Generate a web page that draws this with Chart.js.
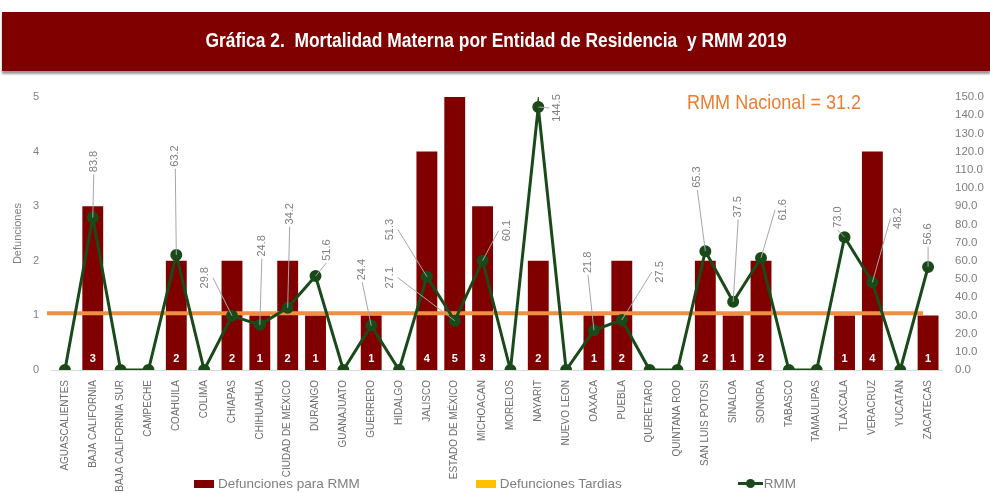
<!DOCTYPE html>
<html>
<head>
<meta charset="utf-8">
<script src="https://cdn.jsdelivr.net/npm/chart.js@4.4.1/dist/chart.umd.min.js"></script>
<style>
  html, body { margin: 0; padding: 0; background: #ffffff; }
  #wrap { position: relative; width: 990px; height: 493px; overflow: hidden; background: #fff; }
  #band { position: absolute; left: 2px; top: 12px; width: 988px; height: 59px; background: #800000;
          box-shadow: 0 3px 2px #9a9a9a; }
  #band div { position: absolute; left: 0; top: 0; width: 988px; text-align: center; color: #ffffff;
          font: bold 20px "Liberation Sans", Arial, sans-serif; line-height: 56px; white-space: pre;
          transform: scaleX(0.87); transform-origin: 494px 0; }
  #nacional { position: absolute; left: 687px; top: 90px; color: #ED7D31;
          font: 21px "Liberation Sans", sans-serif; white-space: pre;
          transform: scaleX(0.86); transform-origin: 0 0; }
  #c { position: absolute; left: 0; top: 0; }
  #legend { position: absolute; left: 0; top: 476px; width: 990px; display: flex; justify-content: center; gap: 116px;
            font: 13.5px "Liberation Sans", Arial, sans-serif; color: #7f7f7f; }
  .item { display: flex; align-items: center; }
  .box { width: 20px; height: 8px; margin-right: 4px; }
  .ln { position: relative; width: 25px; height: 3px; margin-right: 1px; }
  .ln span { position: absolute; left: 8px; top: -3px; width: 9px; height: 9px; border-radius: 50%; }
</style>
</head>
<body>
<div id="wrap">
  <canvas id="c" width="990" height="493"></canvas>
  <div id="band"><div>Gráfica 2.  Mortalidad Materna por Entidad de Residencia  y RMM 2019</div></div>
  <div id="nacional"></div>
  <div id="legend"></div>
</div>
<script>
const entidades = ["AGUASCALIENTES","BAJA CALIFORNIA","BAJA CALIFORNIA SUR","CAMPECHE","COAHUILA","COLIMA","CHIAPAS","CHIHUAHUA","CIUDAD DE MÉXICO","DURANGO","GUANAJUATO","GUERRERO","HIDALGO","JALISCO","ESTADO DE MÉXICO","MICHOACAN","MORELOS","NAYARIT","NUEVO LEON","OAXACA","PUEBLA","QUERETARO","QUINTANA ROO","SAN LUIS POTOSI","SINALOA","SONORA","TABASCO","TAMAULIPAS","TLAXCALA","VERACRUZ","YUCATÁN","ZACATECAS"];
const defuncionesRMM = [0,3,0,0,2,0,2,1,2,1,0,1,0,4,5,3,0,2,0,1,2,0,0,2,1,2,0,0,1,4,0,1];
const defuncionesTardias = [0,0,0,0,0,0,0,0,0,0,0,0,0,0,0,0,0,0,0,0,0,0,0,0,0,0,0,0,0,0,0,0];
const rmm = [0,83.8,0,0,63.2,0,29.8,24.8,34.2,51.6,0,24.4,0,51.3,27.1,60.1,0,144.5,0,21.8,27.5,0,0,65.3,37.5,61.6,0,0,73.0,48.2,0,56.6];
const rmmNacional = 31.2;
const leftTicks = [0,1,2,3,4,5];
const rightTickStep = 10;

// label placement offsets (pixels from each RMM point), layout only
const labelOffsets = {
  1:[1,-56], 4:[-1,-99], 6:[-27,-38], 7:[2,-79], 8:[2,-94], 9:[11,-26], 11:[-9,-56],
  13:[-37,-47], 14:[-65,-43], 15:[24,-30], 17:[19,1], 19:[-6,-68], 20:[38,-48],
  23:[-8,-74], 24:[5,-95], 25:[22,-48], 28:[-7,-20], 29:[26,-64], 31:[0,-33]
};

const BAR = '#800000', TARD = '#FFC000', GREEN = '#1a4a1a', ORANGE = '#F0903E', GRAY = '#7f7f7f';

document.getElementById('nacional').textContent = 'RMM Nacional = ' + rmmNacional.toFixed(1);

const nacionalPlugin = {
  id: 'nacional',
  beforeDatasetDraw(chart, args) {
    if (args.index !== 2) return;
    const {ctx, chartArea} = chart;
    const x = chart.scales.x, y1 = chart.scales.y1;
    const yy = y1.getPixelForValue(rmmNacional);
    ctx.save();
    ctx.strokeStyle = ORANGE; ctx.lineWidth = 4;
    ctx.beginPath();
    ctx.moveTo(chartArea.left - 4, yy);
    ctx.lineTo(x.getPixelForValue(entidades.length - 1) - 5, yy);
    ctx.stroke();
    ctx.restore();
  },
  afterDatasetDraw(chart, args) {
    if (args.index !== 0) return;
    const {ctx} = chart;
    ctx.save();
    ctx.fillStyle = '#ffffff';
    ctx.font = 'bold 11px "Liberation Sans", Arial, sans-serif';
    ctx.textAlign = 'center'; ctx.textBaseline = 'middle';
    args.meta.data.forEach((bar, i) => {
      const v = defuncionesRMM[i];
      if (v > 0) ctx.fillText(String(v), bar.x, bar.base - 11);
    });
    ctx.restore();
  },
  afterDatasetsDraw(chart) {
    const {ctx} = chart;
    const meta = chart.getDatasetMeta(2);
    ctx.save();
    ctx.font = '11px "Liberation Sans", Arial, sans-serif';
    Object.keys(labelOffsets).forEach(k => {
      const i = +k;
      const pt = meta.data[i];
      const [dx, dy] = labelOffsets[k];
      const lx = pt.x + dx, ly = pt.y + dy;
      const txt = rmm[i].toFixed(1);
      const hw = ctx.measureText(txt).width / 2;
      let ax, ay;
      if (Math.abs(dx) <= 12) { ax = lx; ay = ly + hw + 2; }
      else { ax = lx - Math.sign(dx) * 8; ay = ly; }
      if (Math.hypot(pt.x - ax, pt.y - ay) > 10) {
        ctx.strokeStyle = '#a6a6a6'; ctx.lineWidth = 1;
        ctx.beginPath(); ctx.moveTo(ax, ay); ctx.lineTo(pt.x, pt.y); ctx.stroke();
      }
      ctx.save();
      ctx.translate(lx, ly);
      ctx.rotate(-Math.PI / 2);
      ctx.fillStyle = GRAY; ctx.textAlign = 'center'; ctx.textBaseline = 'middle';
      ctx.fillText(txt, 0, 0);
      ctx.restore();
    });
    ctx.restore();
  }
};

const chart = new Chart(document.getElementById('c'), {
  type: 'bar',
  data: {
    labels: entidades,
    datasets: [
      { type: 'bar', label: 'Defunciones para RMM', data: defuncionesRMM, backgroundColor: BAR, yAxisID: 'y', stack: 's', order: 2, barPercentage: 0.75, categoryPercentage: 1 },
      { type: 'bar', label: 'Defunciones Tardias', data: defuncionesTardias, backgroundColor: TARD, yAxisID: 'y', stack: 's', order: 1, barPercentage: 0.75, categoryPercentage: 1 },
      { type: 'line', label: 'RMM', data: rmm, yAxisID: 'y1', borderColor: GREEN, backgroundColor: GREEN, borderWidth: 3,
        pointRadius: 4.5, pointBackgroundColor: GREEN, pointBorderColor: GREEN, tension: 0, order: 0 }
    ]
  },
  options: {
    responsive: false, animation: false, devicePixelRatio: 1,
    layout: { padding: { top: 97, left: 0, right: 0, bottom: 0 } },
    plugins: { legend: { display: false }, title: { display: false }, tooltip: { enabled: false } },
    scales: {
      x: {
        stacked: true, offset: true,
        grid: { display: false, drawTicks: false },
        border: { display: true, color: '#d9d9d9', width: 1 },
        ticks: { autoSkip: false, maxRotation: 90, minRotation: 90, padding: 10, color: '#6f6f6f',
                 font: { family: '"Liberation Sans", sans-serif', size: 10 } },
        afterFit(s) { s.height = 123; }
      },
      y: {
        stacked: true, position: 'left', min: 0, max: 5,
        afterBuildTicks(s) { s.ticks = leftTicks.map(v => ({ value: v })); },
        grid: { display: false, drawTicks: false }, border: { display: false },
        ticks: { padding: 12, color: GRAY, font: { family: '"Liberation Sans", sans-serif', size: 11 } },
        title: { display: true, text: 'Defunciones', color: GRAY, padding: { top: 11, bottom: 0 },
                 font: { family: '"Liberation Sans", sans-serif', size: 11 } },
        afterFit(s) { s.width = 51; }
      },
      y1: {
        position: 'right', min: 0, max: 150,
        grid: { display: false, drawTicks: false }, border: { display: false },
        ticks: { stepSize: rightTickStep, padding: 13, color: GRAY, callback: v => Number(v).toFixed(1),
                 font: { family: '"Liberation Sans", sans-serif', size: 11.5 } },
        afterFit(s) { s.width = 48; }
      }
    }
  },
  plugins: [nacionalPlugin]
});

// HTML legend built from the chart's datasets
const legend = document.getElementById('legend');
chart.data.datasets.forEach(ds => {
  const it = document.createElement('div'); it.className = 'item';
  if (ds.type === 'line') {
    const ln = document.createElement('div'); ln.className = 'ln'; ln.style.background = ds.borderColor;
    const dot = document.createElement('span'); dot.style.background = ds.borderColor; ln.appendChild(dot);
    it.appendChild(ln);
  } else {
    const b = document.createElement('div'); b.className = 'box'; b.style.background = ds.backgroundColor;
    it.appendChild(b);
  }
  const t = document.createElement('span'); t.textContent = ds.label; it.appendChild(t);
  legend.appendChild(it);
});
</script>
</body>
</html>
